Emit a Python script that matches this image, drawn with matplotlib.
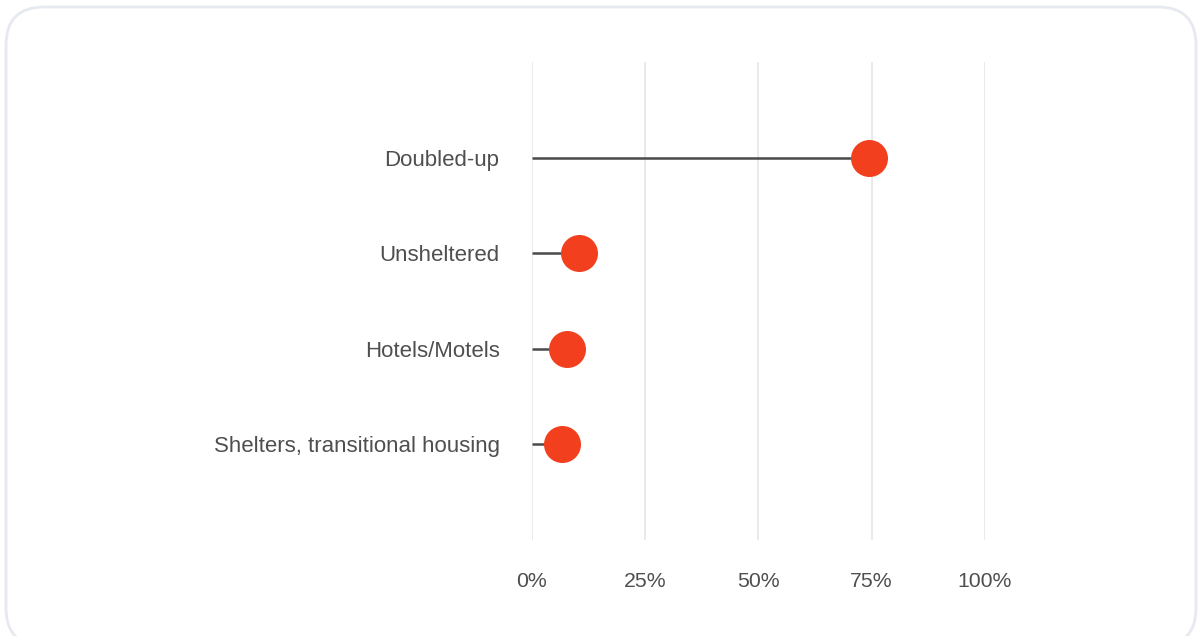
import matplotlib
matplotlib.use("Agg")
import matplotlib.pyplot as plt
from matplotlib.patches import FancyBboxPatch

# Share of students by nighttime residence
categories = ["Doubled-up", "Unsheltered", "Hotels/Motels", "Shelters, transitional housing"]
values = [74.4, 10.5, 7.8, 6.7]
x_ticks = [0, 25, 50, 75, 100]
x_tick_labels = ["0%", "25%", "50%", "75%", "100%"]

W, H, DPI = 1199, 636, 100
fig = plt.figure(figsize=(W / DPI, H / DPI), dpi=DPI, facecolor="white")

# rounded card background
bg = fig.add_axes([0, 0, 1, 1], zorder=0)
bg.set_xlim(0, W)
bg.set_ylim(0, H)
bg.axis("off")
card = FancyBboxPatch((6, -10), 1190, 636 - 7 + 10,
                      boxstyle="round,pad=0,rounding_size=38",
                      facecolor="white", edgecolor="#e6eaf0", linewidth=2)
bg.add_patch(card)

ax = fig.add_axes([531.5 / W, 1 - 540 / H, 453.5 / W, 478 / H], zorder=1)
ax.patch.set_alpha(0)

ypos = list(range(len(categories)))
text_color = "#4f4f4f"

ax.hlines(ypos, 0, values, color="#4a4a4a", linewidth=1.8, zorder=2)
ax.scatter(values, ypos, s=37 ** 2 * 0.5184, color="#f2401f", zorder=3, linewidths=0)

ax.set_xlim(0, 100)
ax.set_ylim(4, -1)
ax.set_xticks(x_ticks)
ax.set_xticklabels(x_tick_labels)
ax.set_yticks(ypos)
ax.set_yticklabels(categories)
ax.grid(axis="x", color="#e6e6e6", linewidth=1.2, zorder=0)
ax.set_axisbelow(True)
for s in ax.spines.values():
    s.set_visible(False)
ax.tick_params(axis="both", length=0, labelcolor=text_color)
ax.tick_params(axis="y", pad=23, labelsize=16)
ax.tick_params(axis="x", pad=23, labelsize=15.3)
for lab in ax.get_xticklabels() + ax.get_yticklabels():
    lab.set_fontfamily("Liberation Sans")

fig.savefig("out.png", dpi=DPI, facecolor="white")
